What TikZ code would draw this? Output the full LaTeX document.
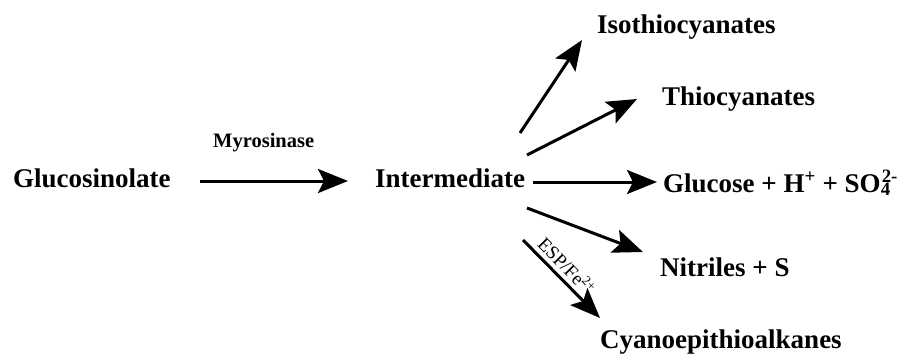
\documentclass[tikz,border=0pt]{standalone}
\usepackage{fontspec}
\setmainfont{Liberation Serif}
\usetikzlibrary{arrows.meta}
\begin{document}
\begin{tikzpicture}[x=1pt,y=-1pt,
  lbl/.style={inner sep=0pt,anchor=base west,font=\fontsize{27}{30}\selectfont\bfseries},
  small/.style={inner sep=0pt,anchor=base west,font=\fontsize{20.5}{24}\selectfont\bfseries},
  rxn/.style={line width=3pt,-{Stealth[length=30pt,width=24pt,inset=6pt]}}]
\useasboundingbox (0,0) rectangle (908,356);
\node[lbl] (glu) at (13,187) {Glucosinolate};
\node[small] (myr) at (213,147) {Myrosinase};
\node[lbl] (int) at (375,187) {Intermediate};
\node[lbl] (iso) at (597,33) {Isothiocyanates};
\node[lbl] (thio) at (662,105) {Thiocyanates};
\node[lbl] (gl) at (663,192) {Glucose + H\textsuperscript{+} + SO\rlap{\textsubscript{4}}\kern1pt\textsuperscript{2-}};
\node[lbl] (nit) at (660,276) {Nitriles + S};
\node[lbl] (cya) at (600,348) {Cyanoepithioalkanes};
\coordinate (a0) at (200,181); \coordinate (a1) at (348,181);
\coordinate (b0) at (520,133); \coordinate (b1) at (582,40);
\coordinate (c0) at (527,155); \coordinate (c1) at (637,99);
\coordinate (d0) at (533,182); \coordinate (d1) at (657,182);
\coordinate (e0) at (527,208); \coordinate (e1) at (643,252);
\coordinate (f0) at (523,240); \coordinate (f1) at (600,318);
\draw[rxn] (a0) -- (a1);
\draw[rxn] (b0) -- (b1);
\draw[rxn] (c0) -- (c1);
\draw[rxn] (d0) -- (d1);
\draw[rxn] (e0) -- (e1);
\draw[rxn] (f0) -- node[pos=0.45,sloped,above,inner sep=4pt,font=\fontsize{19}{21}\selectfont] (esp) {ESP/Fe\textsuperscript{2+}} (f1);
\end{tikzpicture}
\end{document}
